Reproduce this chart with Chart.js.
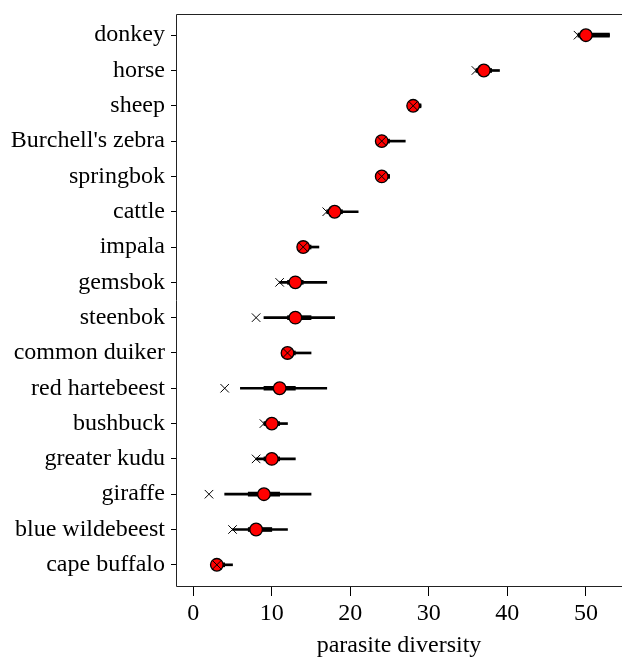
<!DOCTYPE html>
<html>
<head>
<meta charset="utf-8">
<script src="https://cdn.jsdelivr.net/npm/chart.js@4.4.1/dist/chart.umd.min.js"></script>
<style>
  html, body { margin: 0; padding: 0; background: #ffffff; }
  #wrap { width: 622px; height: 657px; }
</style>
</head>
<body>
<div id="wrap"><canvas id="c" width="622" height="657"></canvas></div>
<script>
const categories = ["donkey", "horse", "sheep", "Burchell's zebra", "springbok", "cattle", "impala", "gemsbok", "steenbok", "common duiker", "red hartebeest", "bushbuck", "greater kudu", "giraffe", "blue wildebeest", "cape buffalo"];
const observed = [50, 37, 28, 24, 24, 18, 14, 13, 13, 12, 11, 10, 10, 9, 8, 3];
const estimate = [49, 36, 28, 24, 24, 17, 14, 11, 8, 12, 4, 9, 8, 2, 5, 3];
const lo95 = [49, 36, 28, 24, 24, 17, 14, 11, 9, 12, 6, 9, 8, 4, 5, 3];
const hi95 = [53, 39, 29, 27, 25, 21, 16, 17, 18, 15, 17, 12, 13, 15, 12, 5];
const lo50 = [49, 36, 28, 24, 24, 17, 14, 12, 12, 12, 9, 9, 9, 7, 7, 3];
const hi50 = [53, 38, 29, 25, 25, 19, 15, 14, 15, 13, 13, 11, 11, 11, 10, 4];
const xTicks = [0, 10, 20, 30, 40, 50];

const FONT = "'Liberation Serif', 'Times New Roman', serif";

const framePlugin = {
  id: 'frame',
  afterDraw(chart) {
    const a = chart.chartArea;
    const ctx = chart.ctx;
    const l = Math.round(a.left) + 0.5, t = Math.round(a.top) + 0.5, b = Math.round(a.bottom) + 0.5, r = Math.round(a.right);
    ctx.save();
    ctx.strokeStyle = '#222';
    ctx.lineWidth = 1;
    ctx.beginPath();
    ctx.moveTo(r, t); ctx.lineTo(l, t); ctx.lineTo(l, b); ctx.lineTo(r, b);
    ctx.stroke();
    ctx.restore();
  }
};

new Chart(document.getElementById('c'), {
  type: 'bar',
  data: {
    datasets: [
      {
        type: 'scatter',
        data: categories.map((c, i) => ({ x: estimate[i], y: i })),
        pointStyle: 'crossRot',
        pointRadius: 6,
        borderColor: '#000',
        backgroundColor: '#000',
        borderWidth: 1,
        order: 0
      },
      {
        type: 'scatter',
        data: categories.map((c, i) => ({ x: observed[i], y: i })),
        pointStyle: 'circle',
        pointRadius: 6.3,
        borderColor: '#000',
        backgroundColor: '#ff0000',
        borderWidth: 1.3,
        order: 1
      },
      {
        type: 'bar',
        indexAxis: 'y',
        data: categories.map((c, i) => ({ y: i, x: [lo50[i], hi50[i]] })),
        backgroundColor: '#000',
        borderWidth: 0,
        barThickness: 4,
        grouped: false,
        order: 2
      },
      {
        type: 'bar',
        indexAxis: 'y',
        data: categories.map((c, i) => ({ y: i, x: [lo95[i], hi95[i]] })),
        backgroundColor: '#000',
        borderWidth: 0,
        barThickness: 2,
        grouped: false,
        order: 3
      }
    ]
  },
  options: {
    responsive: false,
    animation: false,
    layout: { autoPadding: false, padding: { top: 14, right: 0, left: 0, bottom: 0 } },
    plugins: { legend: { display: false }, tooltip: { enabled: false } },
    scales: {
      x: {
        type: 'linear',
        position: 'bottom',
        offset: false,
        min: -2.2,
        max: 54.6,
        afterBuildTicks: (s) => { s.ticks = xTicks.map(v => ({ value: v })); },
        afterFit: (s) => { s.height = 71; s.paddingLeft = 0; s.paddingRight = 0; },
        grid: { display: true, offset: false, drawOnChartArea: false, drawTicks: true, tickLength: 10, color: '#000', lineWidth: 1 },
        border: { display: false },
        ticks: { color: '#000', padding: 3, font: { family: FONT, size: 24 }, maxRotation: 0 },
        title: { display: true, text: 'parasite diversity', color: '#000', font: { family: FONT, size: 24 }, padding: { top: 0, bottom: -3 } }
      },
      y: {
        type: 'linear',
        position: 'left',
        offset: false,
        reverse: true,
        min: -0.6,
        max: 15.6,
        afterBuildTicks: (s) => { s.ticks = categories.map((c, i) => ({ value: i })); },
        afterFit: (s) => { s.width = 176; s.paddingTop = 0; s.paddingBottom = 0; },
        grid: { display: true, offset: false, drawOnChartArea: false, drawTicks: true, tickLength: 5, color: '#000', lineWidth: 1 },
        border: { display: false },
        ticks: { color: '#000', padding: 6, font: { family: FONT, size: 24 }, callback: (v) => categories[v] }
      }
    }
  },
  plugins: [framePlugin]
});
</script>
</body>
</html>
